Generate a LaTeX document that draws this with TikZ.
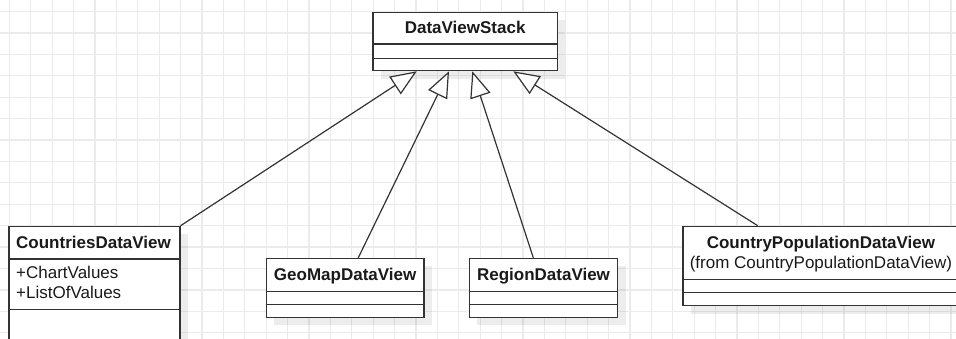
\documentclass[tikz,border=0pt]{standalone}
\usepackage{fontspec}
\setmainfont{Liberation Sans}
\usetikzlibrary{arrows.meta,shadows}
\definecolor{gridc}{HTML}{EBEBEB}
\definecolor{linec}{HTML}{333333}
\definecolor{textc}{HTML}{1A1A1A}
\begin{document}
\begin{tikzpicture}[x=1pt,y=-1pt,
  classbox/.style={draw=linec, line width=1.3pt, fill=white, rectangle, inner sep=0pt, anchor=north west,
    drop shadow={shadow xshift=8pt, shadow yshift=-8pt, fill=black, opacity=0.07}},
  divider/.style={draw=linec, line width=1.3pt},
  title/.style={font=\fontsize{17}{20}\selectfont\bfseries, text=textc, inner sep=0pt, anchor=base},
  attr/.style={font=\fontsize{17}{20}\selectfont, text=textc, inner sep=0pt, anchor=base west},
  inherit/.style={draw=linec, line width=1.2pt, -{Triangle[length=26pt,width=21pt,fill=white]}}]
\useasboundingbox (0,0) rectangle (956,339);
\fill[white] (0,0) rectangle (956,339);
% grid
\foreach \i in {0,...,44} \draw[gridc, line width=1.2pt] ({9.3+21.4*\i},0) -- ({9.3+21.4*\i},339);
\foreach \j in {0,...,15} \draw[gridc, line width=1.2pt] (0,{11.7+21.4*\j}) -- (956,{11.7+21.4*\j});

% DataViewStack
\node[classbox, minimum width=184.4pt, minimum height=58.3pt] (dvs) at (372.3,11.7) {};
\draw[divider] ([yshift=-32.3pt]dvs.north west) -- ([yshift=-32.3pt]dvs.north east);
\draw[divider] ([yshift=-46.6pt]dvs.north west) -- ([yshift=-46.6pt]dvs.north east);
\node[title] (dvst) at ([yshift=-22.3pt]dvs.north) {DataViewStack};

% CountriesDataView
\node[classbox, minimum width=171pt, minimum height=140pt] (cdv) at (8.3,225.7) {};
\draw[divider] ([yshift=-33.3pt]cdv.north west) -- ([yshift=-33.3pt]cdv.north east);
\draw[divider] ([yshift=-83.6pt]cdv.north west) -- ([yshift=-83.6pt]cdv.north east);
\node[attr, font=\fontsize{17}{20}\selectfont\bfseries] (cdvt) at ([shift={(7.7pt,-22.4pt)}]cdv.north west) {CountriesDataView};
\node[attr] (cdva1) at ([shift={(7.7pt,-52.4pt)}]cdv.north west) {+ChartValues};
\node[attr] (cdva2) at ([shift={(7.7pt,-72.4pt)}]cdv.north west) {+ListOfValues};

% GeoMapDataView
\node[classbox, minimum width=157.6pt, minimum height=59pt] (geo) at (265.7,257.7) {};
\draw[divider] ([yshift=-34pt]geo.north west) -- ([yshift=-34pt]geo.north east);
\draw[divider] ([yshift=-46.6pt]geo.north west) -- ([yshift=-46.6pt]geo.north east);
\node[title] (geot) at ([yshift=-22.7pt]geo.north) {GeoMapDataView};

% RegionDataView
\node[classbox, minimum width=148.3pt, minimum height=59pt] (reg) at (468.7,257.7) {};
\draw[divider] ([yshift=-34pt]reg.north west) -- ([yshift=-34pt]reg.north east);
\draw[divider] ([yshift=-46.6pt]reg.north west) -- ([yshift=-46.6pt]reg.north east);
\node[title] (regt) at ([yshift=-22.7pt]reg.north) {RegionDataView};

% CountryPopulationDataView
\node[classbox, minimum width=280pt, minimum height=79.3pt] (cpd) at (682.3,225.7) {};
\draw[divider] ([yshift=-53.6pt]cpd.north west) -- ([yshift=-53.6pt]cpd.north east);
\draw[divider] ([yshift=-67pt]cpd.north west) -- ([yshift=-67pt]cpd.north east);
\node[title] (cpdt) at ([shift={(-2pt,-22.7pt)}]cpd.north) {CountryPopulationDataView};
\node[title, font=\fontsize{17}{20}\selectfont] (cpds) at ([shift={(-2pt,-42.5pt)}]cpd.north) {(from CountryPopulationDataView)};

% inheritance connectors
\draw[inherit] (cdv.north east) -- ([xshift=44.4pt]dvs.south west);
\draw[inherit] ([xshift=92.6pt]geo.north west) -- ([xshift=76.7pt]dvs.south west);
\draw[inherit] ([xshift=64.6pt]reg.north west) -- ([xshift=100pt]dvs.south west);
\draw[inherit] ([xshift=75.4pt]cpd.north west) -- ([xshift=141pt]dvs.south west);
\end{tikzpicture}
\end{document}
